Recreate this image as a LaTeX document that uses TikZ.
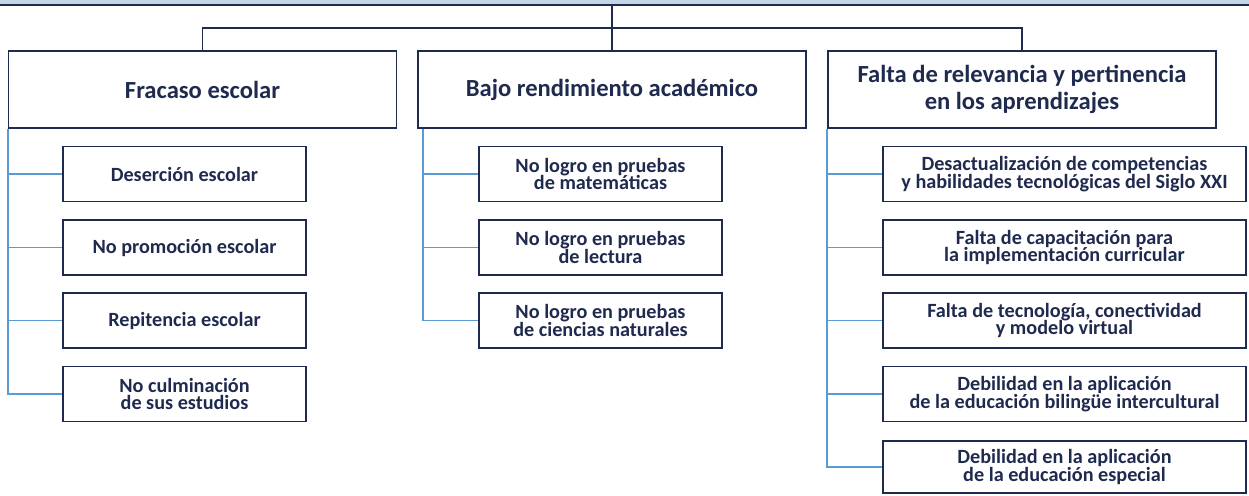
\documentclass[tikz,border=0pt]{standalone}
\usepackage{fontspec}
\setmainfont{Carlito}
\definecolor{navy}{HTML}{1F2A4F}
\definecolor{feedblue}{HTML}{5B9BD5}
\definecolor{barblue}{HTML}{C5D5E8}
\newcommand{\pxu}{0.02cm}
\tikzset{
  head/.style={draw=navy, line width=1.1pt, fill=white, text=navy, font=\bfseries\fontsize{14}{15.7}\selectfont,
    align=center, inner sep=0pt, minimum height=77*\pxu, minimum width=388*\pxu},
  item/.style={draw=navy, line width=1.1pt, fill=white, text=navy, font=\bfseries\fontsize{11.5}{10.2}\selectfont,
    align=center, inner sep=0pt, minimum height=55*\pxu, minimum width=243*\pxu},
  wideitem/.style={item, minimum width=363*\pxu},
  link/.style={draw=navy, line width=1.1pt},
  feed/.style={draw=feedblue, line width=1.1pt}
}
\begin{document}
\begin{tikzpicture}[x=\pxu, y=-\pxu]
  \useasboundingbox (0,0) rectangle (1249,495);

  % top bar
  \fill[barblue] (0,-10) rectangle (1249,5);
  \draw[navy, line width=1.1pt] (0,5) -- (1249,5);
  \coordinate (bar) at (612,5);
  \coordinate (hub) at (612,28);

  % headings
  \node[head] (fracaso) at (202.5,89.5) {Fracaso escolar};
  \node[head] (bajo) at (612,89.5) {Bajo rendimiento académico};
  \node[head] (falta) at (1022,89.5) {Falta de relevancia y pertinencia\\en los aprendizajes};

  \draw[link] (bar) -- (bajo.north);
  \draw[link] (fracaso.north) |- (hub) -| (falta.north);

  % Fracaso escolar
  \node[item] (desercion) at (184.5,174) {Deserción escolar};
  \node[item] (promocion) at (184.5,247.5) {No promoción escolar};
  \node[item] (repitencia) at (184.5,320.5) {Repitencia escolar};
  \node[item] (culminacion) at (184.5,394) {No culminación\\de sus estudios};

  \draw[feed] (fracaso.south west) |- (culminacion.west);
  \draw[feed] (8,174) -- (desercion.west);
  \draw[feed] (8,247.5) -- (promocion.west);
  \draw[feed] (8,320.5) -- (repitencia.west);

  % Bajo rendimiento
  \node[item] (mate) at (600.5,174) {No logro en pruebas\\de matemáticas};
  \node[item] (lectura) at (600.5,247.5) {No logro en pruebas\\de lectura};
  \node[item] (ciencias) at (600.5,320.5) {No logro en pruebas\\de ciencias naturales};

  \draw[feed] ([xshift=6*\pxu]bajo.south west) |- (ciencias.west);
  \draw[feed] (424,174) -- (mate.west);
  \draw[feed] (424,247.5) -- (lectura.west);

  % Falta de relevancia
  \node[wideitem] (siglo) at (1064.5,174) {Desactualización de competencias\\y habilidades tecnológicas del Siglo XXI};
  \node[wideitem] (capacitacion) at (1064.5,247.5) {Falta de capacitación para\\la implementación curricular};
  \node[wideitem] (tecnologia) at (1064.5,320.5) {Falta de tecnología, conectividad\\y modelo virtual};
  \node[wideitem] (bilingue) at (1064.5,394) {Debilidad en la aplicación\\de la educación bilingüe intercultural};
  \node[wideitem, minimum height=52*\pxu] (especial) at (1064.5,467) {Debilidad en la aplicación\\de la educación especial};

  \draw[feed] (falta.south west) |- (especial.west);
  \draw[feed] (828,174) -- (siglo.west);
  \draw[feed] (828,247.5) -- (capacitacion.west);
  \draw[feed] (828,320.5) -- (tecnologia.west);
  \draw[feed] (828,394) -- (bilingue.west);
\end{tikzpicture}
\end{document}
